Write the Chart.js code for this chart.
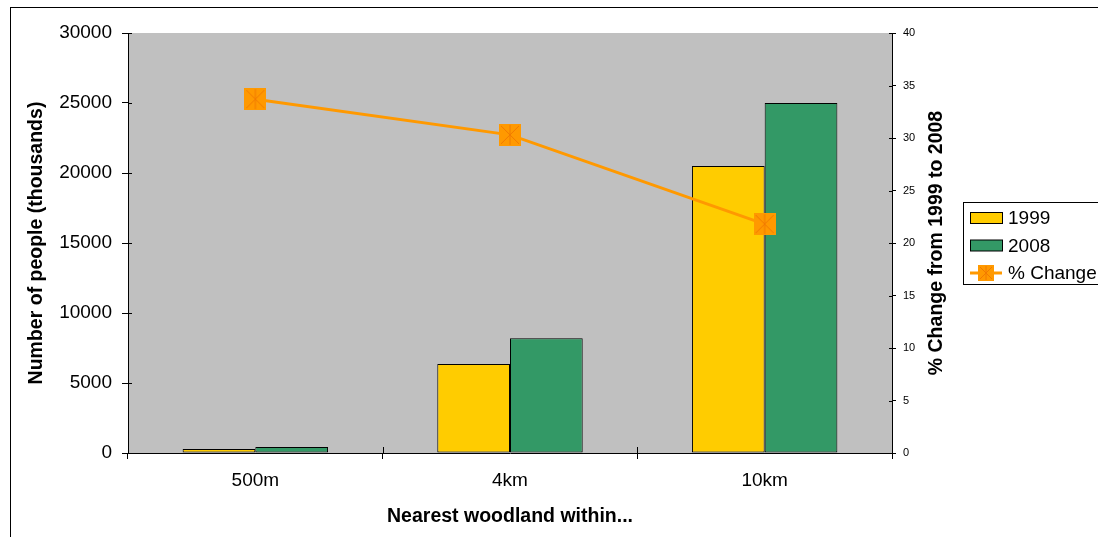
<!DOCTYPE html>
<html>
<head>
<meta charset="utf-8">
<script src="https://cdn.jsdelivr.net/npm/chart.js@4.4.1/dist/chart.umd.min.js"></script>
<style>
  html, body { margin: 0; padding: 0; background: #ffffff; }
  #wrap { width: 1098px; height: 537px; position: relative; }
</style>
</head>
<body>
<div id="wrap"><canvas id="c" width="1098" height="537"></canvas></div>
<script>
// Data
const categories = ['500m', '4km', '10km'];
const people1999 = [290, 6350, 20500];
const people2008 = [430, 8200, 25000];
const pctChange = [33.7, 30.3, 21.8];
const seriesNames = ['1999', '2008', '% Change'];
const xTitle = 'Nearest woodland within...';
const yTitle = 'Number of people (thousands)';
const y1Title = '% Change from 1999 to 2008';

const FONT = "'Liberation Sans', Arial, Helvetica, sans-serif";
const YELLOW = '#FFCC00';
const GREEN = '#339966';
const ORANGE = '#FF9900';
const STAR = '#F27A00';

// Square "star" marker: filled square with X and vertical stroke
function makeMarker(size) {
  const cv = document.createElement('canvas');
  cv.width = size; cv.height = size;
  const g = cv.getContext('2d');
  g.fillStyle = ORANGE;
  g.fillRect(0, 0, size, size);
  g.strokeStyle = STAR;
  g.lineWidth = 1;
  g.beginPath();
  g.moveTo(2, 2); g.lineTo(size - 2, size - 2);
  g.moveTo(size - 2, 2); g.lineTo(2, size - 2);
  g.moveTo(size / 2, 1); g.lineTo(size / 2, size - 1);
  g.stroke();
  return cv;
}
const marker = makeMarker(22);
const legendMarker = makeMarker(16);

const decor = {
  id: 'decor',
  beforeDraw(chart) {
    const { ctx, chartArea: a } = chart;
    ctx.save();
    ctx.fillStyle = '#C0C0C0';
    ctx.fillRect(a.left, a.top, a.right - a.left, a.bottom - a.top);
    ctx.restore();
  },
  afterDraw(chart) {
    const { ctx, chartArea: a, scales } = chart;
    ctx.save();
    ctx.strokeStyle = '#000';
    ctx.lineWidth = 1;
    // inner halves of the crossing tick marks
    ctx.beginPath();
    scales.y.ticks.forEach(t => {
      const py = Math.round(scales.y.getPixelForValue(t.value)) + 0.5;
      ctx.moveTo(a.left, py); ctx.lineTo(a.left + 4, py);
    });
    scales.y1.ticks.forEach(t => {
      const py = Math.round(scales.y1.getPixelForValue(t.value)) + 0.5;
      ctx.moveTo(a.right, py); ctx.lineTo(a.right - 3, py);
    });
    const n = categories.length;
    for (let i = 0; i <= n; i++) {
      const px = Math.round(a.left + i * (a.right - a.left) / n) + 0.5;
      ctx.moveTo(px, a.bottom); ctx.lineTo(px, a.bottom - 6);
    }
    ctx.stroke();

    // axis titles
    ctx.fillStyle = '#000';
    ctx.font = 'bold 19.5px ' + FONT;
    ctx.textAlign = 'center';
    ctx.textBaseline = 'middle';
    ctx.fillText(xTitle, (a.left + a.right) / 2, 517);
    const cy = (a.top + a.bottom) / 2;
    [[37, yTitle], [937, y1Title]].forEach(([x, s]) => {
      ctx.save();
      ctx.translate(x, cy);
      ctx.rotate(-Math.PI / 2);
      ctx.fillText(s, 0, 0);
      ctx.restore();
    });

    // legend
    ctx.strokeStyle = '#000';
    ctx.strokeRect(963.5, 202.5, 200, 82);
    ctx.font = '19px ' + FONT;
    ctx.textAlign = 'left';
    const rows = [218, 245.5, 273];
    [YELLOW, GREEN].forEach((col, i) => {
      ctx.fillStyle = col;
      ctx.fillRect(970.5, rows[i] - 5.5, 32, 11);
      ctx.strokeRect(970.5, rows[i] - 5.5, 32, 11);
    });
    ctx.strokeStyle = ORANGE;
    ctx.lineWidth = 3;
    ctx.beginPath();
    ctx.moveTo(970, rows[2]); ctx.lineTo(1002, rows[2]);
    ctx.stroke();
    ctx.drawImage(legendMarker, 986 - 8, rows[2] - 8);
    ctx.fillStyle = '#000';
    seriesNames.forEach((s, i) => ctx.fillText(s, 1008, rows[i] + 1));

    // outer frame
    ctx.strokeStyle = '#000';
    ctx.lineWidth = 1;
    ctx.strokeRect(10.5, 7.5, 2000, 2000);
    ctx.restore();
  }
};

const plain = v => String(v);

new Chart(document.getElementById('c'), {
  data: {
    labels: categories,
    datasets: [
      {
        type: 'line', label: seriesNames[2], data: pctChange, yAxisID: 'y1', order: 0,
        borderColor: ORANGE, borderWidth: 3, pointStyle: marker, tension: 0,
        pointRadius: 11, pointHoverRadius: 11
      },
      {
        type: 'bar', label: seriesNames[0], data: people1999, yAxisID: 'y', order: 1,
        backgroundColor: YELLOW, borderColor: '#000', borderWidth: 1, borderSkipped: false,
        categoryPercentage: 0.571, barPercentage: 1.0
      },
      {
        type: 'bar', label: seriesNames[1], data: people2008, yAxisID: 'y', order: 2,
        backgroundColor: GREEN, borderColor: '#000', borderWidth: 1, borderSkipped: false,
        categoryPercentage: 0.571, barPercentage: 1.0
      }
    ]
  },
  options: {
    responsive: false,
    animation: false,
    devicePixelRatio: 1,
    layout: { padding: { top: 33, left: 0, right: 0, bottom: 0 } },
    plugins: { legend: { display: false }, tooltip: { enabled: false } },
    scales: {
      x: {
        type: 'category', offset: true,
        grid: { offset: true, drawOnChartArea: false, color: '#000', tickLength: 6 },
        border: { display: true, color: '#000', width: 1 },
        ticks: { color: '#000', font: { family: FONT, size: 19 }, padding: 10, maxRotation: 0 },
        afterFit(s) { s.height = 84; }
      },
      y: {
        position: 'left', min: 0, max: 30000,
        grid: { drawOnChartArea: false, color: '#000', tickLength: 6 },
        border: { display: true, color: '#000', width: 1 },
        ticks: { stepSize: 5000, color: '#000', font: { family: FONT, size: 19 }, padding: 10, callback: plain },
        afterFit(s) { s.width = 128; }
      },
      y1: {
        position: 'right', min: 0, max: 40,
        grid: { drawOnChartArea: false, color: '#000', tickLength: 4 },
        border: { display: true, color: '#000', width: 1 },
        ticks: { stepSize: 5, color: '#000', font: { family: FONT, size: 11 }, padding: 7, callback: plain },
        afterFit(s) { s.width = 206; }
      }
    }
  },
  plugins: [decor]
});
</script>
</body>
</html>
